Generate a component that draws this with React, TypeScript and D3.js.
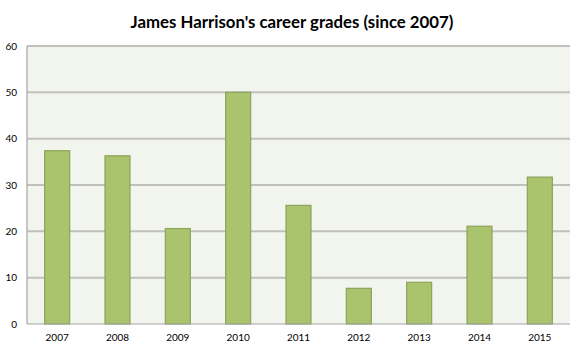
import React from "react";
import * as d3 from "d3";

const years = ["2007", "2008", "2009", "2010", "2011", "2012", "2013", "2014", "2015"];
const grades = [37.4, 36.3, 20.6, 50.0, 25.6, 7.7, 9.0, 21.1, 31.7];
const yTicks = [0, 10, 20, 30, 40, 50, 60];
const title = "James Harrison's career grades (since 2007)";

const W = 584;
const H = 351;
const margin = { left: 27, right: 14, top: 46, bottom: 27 };

export default function App() {
  const x0 = margin.left;
  const x1 = W - margin.right;
  const y0 = H - margin.bottom;
  const y1 = margin.top;
  const p = 0.586;
  const x = d3.scaleBand<string>().domain(years).range([x0, x1]).paddingInner(p).paddingOuter(p / 2);
  const y = d3.scaleLinear().domain([0, 60]).range([y0, y1]);
  const font = "Lato, 'Open Sans', 'DejaVu Sans', sans-serif";
  return (
    <svg width={W} height={H} style={{ position: "absolute", left: 0, top: 0, background: "#fff" }}>
      <text x={292} y={28} textAnchor="middle" fontFamily={font} fontWeight="bold" fontSize={16.8} fill="#000">
        {title}
      </text>
      <rect x={x0} y={y1} width={x1 - x0} height={y0 - y1} fill="#f2f4ee" />
      {yTicks.filter((t) => t > 0).map((t) => (
        <line key={t} x1={x0} x2={x1} y1={y(t)} y2={y(t)} stroke="#c0c0bc" strokeWidth={2} />
      ))}
      {yTicks.map((t) => (
        <text key={"l" + t} x={17} y={y(t) + 3.5} textAnchor="end" fontFamily={font} fontSize={10} fill="#000">
          {t}
        </text>
      ))}
      {years.map((yr, i) => (
        <rect
          key={yr}
          x={x(yr)!}
          y={y(grades[i])}
          width={x.bandwidth()}
          height={y0 - y(grades[i])}
          fill="#a9c46c"
          stroke="#8ca35a"
          strokeWidth={1.2}
        />
      ))}
      <line x1={x0} x2={x0} y1={y1} y2={y0} stroke="#a6a6a6" strokeWidth={1.2} />
      <line x1={x0} x2={x1} y1={y0} y2={y0} stroke="#a6a6a6" strokeWidth={1.2} />
      {years.map((yr) => (
        <text key={"x" + yr} x={x(yr)! + x.bandwidth() / 2} y={341} textAnchor="middle" fontFamily={font} fontSize={10} fill="#000">
          {yr}
        </text>
      ))}
    </svg>
  );
}
